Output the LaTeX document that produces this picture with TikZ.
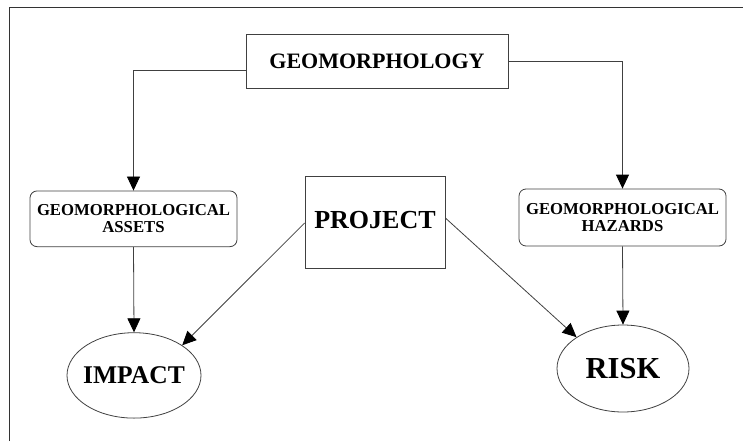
\documentclass[tikz,border=0pt]{standalone}
\usepackage{fontspec}
\setmainfont{Liberation Serif}
\usetikzlibrary{arrows.meta, shapes.geometric}

\begin{document}
\begin{tikzpicture}[x=1pt,y=-1pt,>={Triangle[length=14pt,width=13pt,color=black]},
  line width=0.8pt,
  box node/.style={rectangle,draw=black!75,inner sep=0pt,font=\bfseries},
  soft node/.style={rectangle,rounded corners=7pt,draw=black!75,inner sep=0pt,align=center,
    minimum width=207pt,font=\fontsize{16.7}{17}\selectfont\bfseries},
  oval node/.style={ellipse,draw=black!75,inner sep=0pt},
  link/.style={->,draw=black!75,line width=0.8pt},
  elbow/.style={link,to path={-| (\tikztotarget)}}]
  \useasboundingbox (0,0) rectangle (743,441);
  \draw[black!80, line width=1pt] (9,441) -- (9,7.5) -- (743,7.5);

  \node[box node, minimum width=262pt, minimum height=53.5pt,
    font=\fontsize{22}{26}\selectfont\bfseries] (geo) at (377,61.25) {GEOMORPHOLOGY};
  \node[soft node, minimum height=55.7pt] (assets) at (133.5,218.8) {GEOMORPHOLOGICAL\\ASSETS};
  \node[soft node, minimum height=57pt] (hazards) at (622.5,217.5) {GEOMORPHOLOGICAL\\HAZARDS};
  \node[box node, minimum width=140pt, minimum height=92pt,
    font=\fontsize{26}{30}\selectfont\bfseries] (project) at (375,222) {\raisebox{4pt}{PROJECT}};
  \node[oval node, minimum width=134pt, minimum height=85.4pt,
    font=\fontsize{25.5}{30}\selectfont\bfseries] (impact) at (134,375.4) {\makebox[0pt]{IMPACT}};
  \node[oval node, minimum width=132pt, minimum height=87pt,
    font=\fontsize{30.5}{34}\selectfont\bfseries] (risk) at (623,368.5) {\makebox[0pt]{RISK}};

  \path
    ([yshift=-8.75pt]geo.west) edge [elbow] (assets.north)
    (geo.east) edge [elbow] (hazards.north)
    (assets.south) edge [link] (impact.north)
    (hazards.south) edge [link] (risk.north)
    ([yshift=-1pt]project.west) edge [link] (impact.32)
    ([yshift=4pt]project.east) edge [link] (risk.146);
\end{tikzpicture}
\end{document}
